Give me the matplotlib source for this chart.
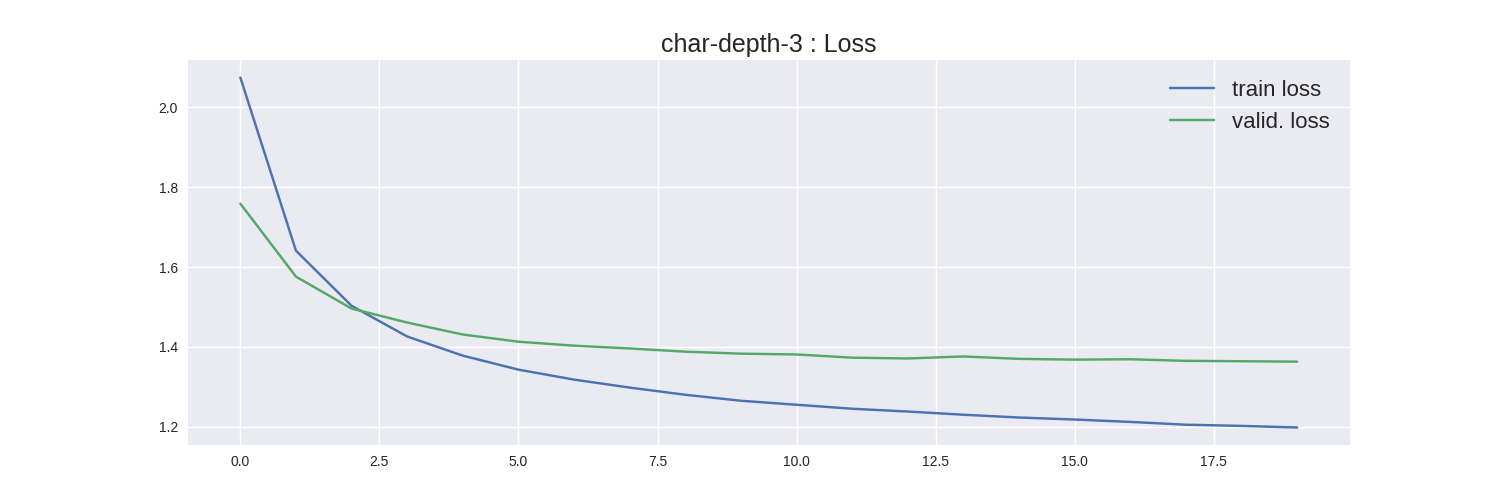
import matplotlib
matplotlib.use("Agg")
import matplotlib.pyplot as plt

plt.style.use("seaborn-v0_8")

epochs = list(range(20))
train_loss = [2.075, 1.641, 1.503, 1.426, 1.378, 1.343, 1.318, 1.298, 1.280, 1.265,
              1.255, 1.245, 1.238, 1.230, 1.223, 1.218, 1.212, 1.205, 1.202, 1.198]
valid_loss = [1.759, 1.576, 1.496, 1.461, 1.431, 1.413, 1.403, 1.396, 1.388, 1.383,
              1.381, 1.373, 1.371, 1.376, 1.370, 1.368, 1.369, 1.365, 1.364, 1.363]

fig = plt.figure(figsize=(15, 5), dpi=100)
plt.plot(epochs, train_loss, label="train loss")
plt.plot(epochs, valid_loss, label="valid. loss")
plt.title("char-depth-3 : Loss", fontsize=18)
plt.legend(fontsize=16)
plt.savefig("out.png")
